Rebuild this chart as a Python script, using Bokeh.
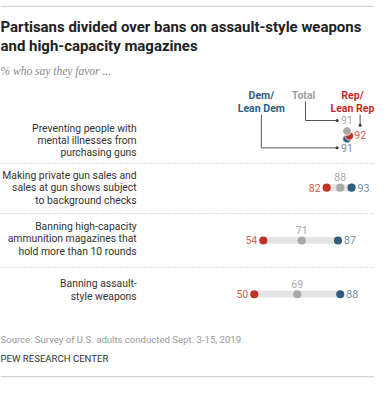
from bokeh.plotting import figure
from bokeh.models import Range1d
from bokeh.core.properties import value
from bokeh.embed import file_html
from bokeh.resources import INLINE

# ---- data ----
items = [
    ["Preventing people with", "mental illnesses from", "purchasing guns"],
    ["Making private gun sales and", "sales at gun shows subject", "to background checks"],
    ["Banning high-capacity", "ammunition magazines that", "hold more than 10 rounds"],
    ["Banning assault-", "style weapons"],
]
dem = [91, 93, 87, 88]
total = [91, 88, 71, 69]
rep = [92, 82, 54, 50]

title_lines = ["Partisans divided over bans on assault-style weapons",
               "and high-capacity magazines"]
subtitle = "% who say they favor ..."
source = "Source: Survey of U.S. adults conducted Sept. 3-15, 2019."
credit = "PEW RESEARCH CENTER"

# ---- layout (reference pixel space 390 x 399) ----
W, H = 374, 383
SX = W / 390.0
FONT = "Roboto"
RED, RED_T = "#bf3427", "#d2614f"
BLUE, BLUE_T = "#2f5d7c", "#6f8ea6"
GRAY, GRAY_T = "#a9a9a9", "#a9a9a9"
BAR = "#e4e4e4"

def fs(px):
    return value(f"{px * SX:.2f}px")

# percent scale: ref_x = 146.6 + 2.36 * v
x0 = (0 - 146.6) / 2.36
x1 = (390 - 146.6) / 2.36

p = figure(width=W, height=H, x_range=Range1d(x0, x1), y_range=Range1d(399, 0),
           output_backend="svg", toolbar_location=None, min_border=0)
p.extra_x_ranges = {"px": Range1d(0, 390)}
p.axis.visible = False
p.grid.visible = False
p.outline_line_color = None
p.background_fill_color = "white"

def txt(x, y, t, size, color, align="left", style="normal", font=FONT, rng="px", baseline="middle", xo=0):
    p.text(x=[x], y=[y], text=[t], text_font=value(font), text_font_size=fs(size),
           text_color=color, text_align=align, text_baseline=baseline,
           text_font_style=style, x_range_name=rng if rng else "default", x_offset=xo)

# frame lines
p.segment(x0=[0, 0], x1=[390, 390], y0=[6, 392], y1=[6, 392], line_color="#c8c8c8",
          line_width=1, x_range_name="px")

# title / subtitle
txt(0, 28, title_lines[0], 15.6, "#222222", style="bold")
txt(0, 47, title_lines[1], 15.6, "#222222", style="bold")
txt(0, 73, subtitle, 12, "#8a8a8a", style="italic", font="Liberation Serif")

# headers
txt(272, 99, "Dem/", 11, "#2d5f82", align="center", style="bold")
txt(272, 112, "Lean Dem", 11, "#2d5f82", align="center", style="bold")
txt(316, 99, "Total", 11, "#a0a0a0", align="center", style="bold")
txt(367, 99, "Rep/", 11, "#c42a1c", align="center", style="bold")
txt(367, 112, "Lean Rep", 11, "#c42a1c", align="center", style="bold")

# row label positions
label_y = [[133, 145.5, 158], [182, 195, 208], [235, 248, 261], [295, 308]]
dot_y = [None, 195, 250, 306]
for lines, ys in zip(items, label_y):
    for t, y in zip(lines, ys):
        txt(142, y, t, 10.8, "#333333", align="right")

# separators
for y in [169.5, 222, 278]:
    p.segment(x0=[0], x1=[390], y0=[y], y1=[y], line_color="#b5b5b5", line_width=1,
              line_dash="1 2", x_range_name="px")

# rows 2-4: dumbbells
for i in range(1, 4):
    y = dot_y[i]
    lo, hi = min(rep[i], dem[i]), max(rep[i], dem[i])
    p.hbar(y=[y], left=[lo], right=[hi], height=7, fill_color=BAR, line_color=None)
    p.scatter(x=[rep[i]], y=[y], size=8.5 * SX, fill_color=RED, line_color=None)
    p.scatter(x=[total[i]], y=[y], size=8.5 * SX, fill_color=GRAY, line_color=None)
    p.scatter(x=[dem[i]], y=[y], size=8.5 * SX, fill_color=BLUE, line_color=None)
    txt(rep[i], y, str(rep[i]), 11, RED_T, align="right", rng=None, xo=-6)
    txt(dem[i], y, str(dem[i]), 11, BLUE_T, align="left", rng=None, xo=6)
    txt(total[i], y - 11, str(total[i]), 11, GRAY_T, align="center", rng=None)

# row 1: overlapping dots with callouts
p.scatter(x=[dem[0]], y=[144], size=9 * SX, fill_color=BLUE, line_color="white", line_width=0.8)
p.scatter(x=[rep[0]], y=[141], size=9 * SX, fill_color=RED, line_color="white", line_width=0.8)
p.scatter(x=[total[0]], y=[136], size=9 * SX, fill_color=GRAY, line_color="white", line_width=0.8)
txt(total[0], 125, str(total[0]), 11, GRAY_T, align="center", rng=None)
txt(rep[0], 140, str(rep[0]), 11, RED_T, align="left", rng=None, xo=5)
txt(dem[0], 154, str(dem[0]), 11, BLUE_T, align="center", rng=None)

# callout lines (pixel space)
p.line(x=[318, 318, 351], y=[105, 125, 125], line_color="#555555", line_width=1, x_range_name="px")
p.line(x=[272, 272, 351], y=[119, 153.5, 153.5], line_color="#555555", line_width=1, x_range_name="px")
p.line(x=[375, 375], y=[119, 130], line_color="#555555", line_width=1, x_range_name="px")
p.scatter(x=[351, 351, 375], y=[125, 153.5, 130], size=3, fill_color="#333333", line_color=None,
          x_range_name="px")

# footer
txt(0, 353, source, 10, "#9a9a9a")
txt(0, 373, credit, 10, "#333333")

open("out.html", "w").write(file_html(p, INLINE))
